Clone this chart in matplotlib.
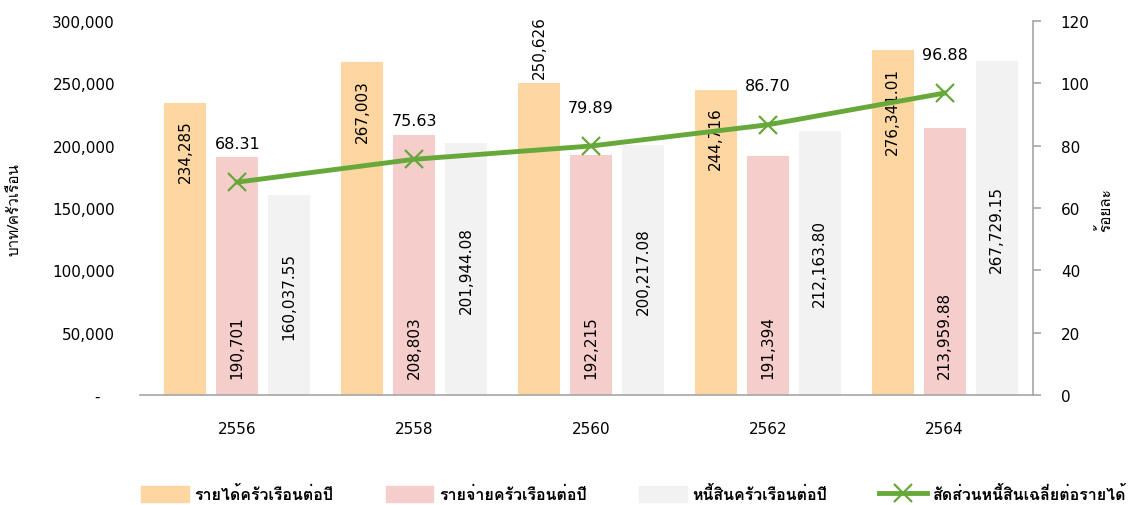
import matplotlib
matplotlib.use("Agg")
import matplotlib.pyplot as plt
from matplotlib import font_manager
from matplotlib.ft2font import FT2Font
from matplotlib.ticker import FuncFormatter, MultipleLocator
from matplotlib.lines import Line2D
from matplotlib.patches import Patch
import numpy as np

# ---- data ----
years = ["2556", "2558", "2560", "2562", "2564"]
income = [234285, 267003, 250626, 244716, 276341.01]
expense = [190701, 208803, 192215, 191394, 213959.88]
debt = [160037.55, 201944.08, 200217.08, 212163.80, 267729.15]
ratio = [68.31, 75.63, 79.89, 86.70, 96.88]
income_labels = ["234,285", "267,003", "250,626", "244,716", "276,341.01"]
expense_labels = ["190,701", "208,803", "192,215", "191,394", "213,959.88"]
debt_labels = ["160,037.55", "201,944.08", "200,217.08", "212,163.80", "267,729.15"]
ratio_labels = ["68.31", "75.63", "79.89", "86.70", "96.88"]
legend_names = ["รายได้ครัวเรือนต่อปี", "รายจ่ายครัวเรือนต่อปี", "หนี้สินครัวเรือนต่อปี", "สัดส่วนหนี้สินเฉลี่ยต่อรายได้"]
left_label = "บาท/ครัวเรือน"
right_label = "ร้อยละ"

# ---- fonts: find one with Thai glyphs ----
thai = []
for f in font_manager.fontManager.ttflist:
    try:
        if 0x0E01 in FT2Font(f.fname).get_charmap() and f.name not in thai:
            thai.append(f.name)
    except Exception:
        pass
fam = ["DejaVu Sans"] + thai[:1]
plt.rcParams["font.family"] = fam
thai_fam = thai[:1] + ["DejaVu Sans"]

c_inc = "#FDD6A1"
c_exp = "#F5CDCB"
c_debt = "#F2F2F2"
c_line = "#66A83A"

fig = plt.figure(figsize=(11.32, 5.06), dpi=100)
ax = fig.add_axes([140 / 1132, 1 - 396 / 506, (1033 - 140) / 1132, (396 - 22) / 506])
ax2 = ax.twinx()

x = np.arange(len(years))
w = 0.237
off = 0.294
ax.bar(x - off, income, w, color=c_inc, zorder=2)
ax.bar(x, expense, w, color=c_exp, zorder=2)
ax.bar(x + off, debt, w, color=c_debt, zorder=2)

ax.set_xlim(-0.55, 4.5)
ax.set_ylim(0, 300000)
ax.yaxis.set_major_locator(MultipleLocator(50000))
ax.yaxis.set_major_formatter(FuncFormatter(lambda v, p: "-   " if v == 0 else f"{int(v):,}"))
ax.set_xticks(x)
ax.set_xticklabels(years)
ax.tick_params(axis="x", length=0, pad=19, labelsize=11)
ax.tick_params(axis="y", length=0, pad=18, labelsize=11)
for s in ["top", "left", "right"]:
    ax.spines[s].set_visible(False)
ax.spines["bottom"].set_color("#A6A6A6")
ax.spines["bottom"].set_linewidth(1.2)

ax2.set_ylim(0, 120)
ax2.yaxis.set_major_locator(MultipleLocator(20))
for s in ["top", "left", "bottom"]:
    ax2.spines[s].set_visible(False)
ax2.spines["right"].set_color("#A6A6A6")
ax2.spines["right"].set_linewidth(1.2)
ax2.tick_params(axis="y", length=6, color="#A6A6A6", width=1.2, pad=14, labelsize=11)

ax2.plot(x, ratio, color=c_line, lw=3.5, marker="x", ms=13, mew=1.6, zorder=5)

# data labels
for i in range(len(years)):
    if i == 2:
        ax.annotate(income_labels[i], (x[i] - off, income[i]), xytext=(0, 3), textcoords="offset points",
                    rotation=90, ha="center", va="bottom", fontsize=11, zorder=6)
    else:
        ax.annotate(income_labels[i], (x[i] - off, income[i]), xytext=(0, -12), textcoords="offset points",
                    rotation=90, ha="center", va="top", fontsize=11, zorder=6)
    ax.annotate(expense_labels[i], (x[i], 0), xytext=(0, 12), textcoords="offset points",
                rotation=90, ha="center", va="bottom", fontsize=11, zorder=6)
    ax.annotate(debt_labels[i], (x[i] + off, debt[i] / 2), rotation=90, ha="center", va="center",
                fontsize=11, zorder=6)
    ax2.annotate(ratio_labels[i], (x[i], ratio[i]), xytext=(0, 28), textcoords="offset points",
                 ha="center", va="center", fontsize=11.5, zorder=6)

fig.text(15 / 1132, 1 - 210 / 506, left_label, rotation=90, ha="center", va="center", fontsize=11,
         family=thai_fam)
fig.text(1105 / 1132, 1 - 210 / 506, right_label, rotation=90, ha="center", va="center", fontsize=11,
         family=thai_fam)

handles = [Patch(color=c_inc), Patch(color=c_exp), Patch(color=c_debt),
           Line2D([0], [0], color=c_line, lw=3.5, marker="x", ms=13, mew=1.6)]
fig.legend(handles, legend_names, loc="center", bbox_to_anchor=(0.5596, 1 - 495 / 506), ncol=4, frameon=False,
           handlelength=3.0, handleheight=1.1, columnspacing=3.25, handletextpad=0.35, borderpad=0.1,
           prop={"weight": "bold", "size": 11.5, "family": thai_fam})

fig.savefig("out.png", dpi=100)
